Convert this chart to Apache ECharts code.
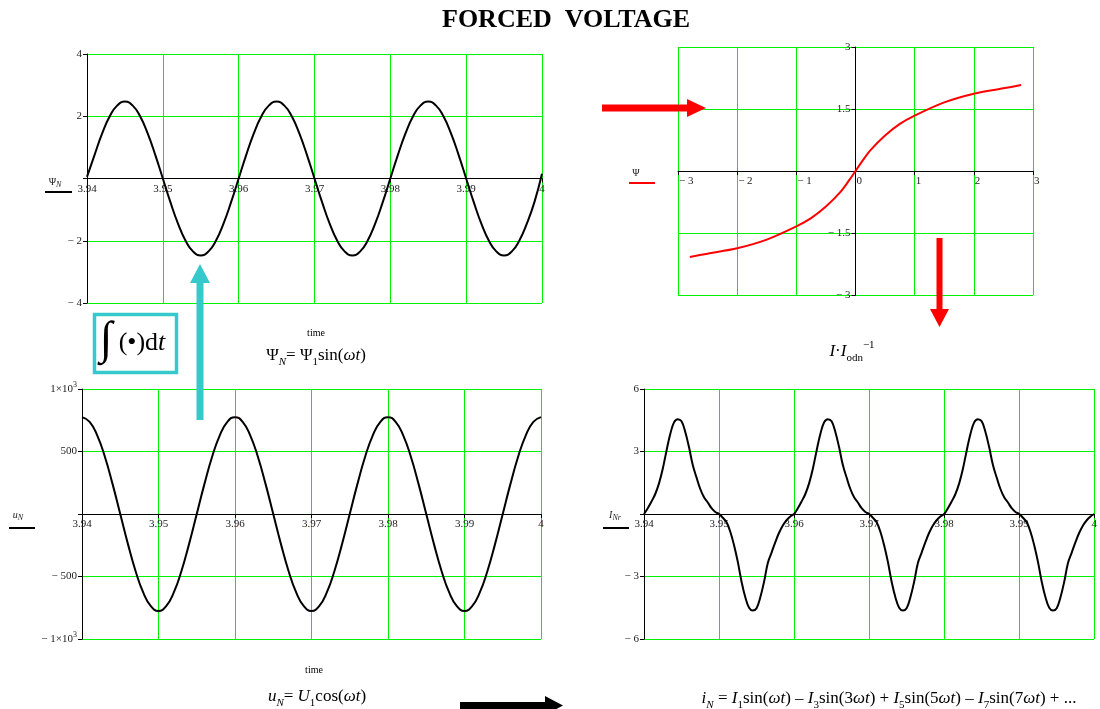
<!DOCTYPE html>
<html><head><meta charset="utf-8">
<script src="https://cdn.jsdelivr.net/npm/echarts@6/dist/echarts.min.js"></script>
<style>html,body{margin:0;padding:0;background:#fff}#c{width:1100px;height:709px}</style>
</head><body><div id="c"></div>
<script>
// ---------------- data ----------------
const T_START = 3.94;
const T_STEP = 0.001;      // sampling step of psiN and uN
const T_STEP_I = 0.0005;   // sampling step of iNr
const timeMin = 3.94, timeMax = 4.0, timeInterval = 0.01;

// flux linkage Psi_N (top-left)
const psiN = [
  0.05, 0.76, 1.45, 2.0, 2.35, 2.47, 2.35, 2.0, 1.45, 0.76,
  0, -0.76, -1.45, -2.0, -2.35, -2.47, -2.35, -2.0, -1.45, -0.76,
  0, 0.76, 1.45, 2.0, 2.35, 2.47, 2.35, 2.0, 1.45, 0.76,
  0, -0.76, -1.45, -2.0, -2.35, -2.47, -2.35, -2.0, -1.45, -0.76,
  0, 0.76, 1.45, 2.0, 2.35, 2.47, 2.35, 2.0, 1.45, 0.76,
  0, -0.76, -1.45, -2.0, -2.35, -2.47, -2.35, -2.0, -1.45, -0.76,
  0.15
];
// voltage u_N (bottom-left)
const uN = [
  775, 737, 627, 456, 239, 0, -239, -456, -627, -737,
  -775, -737, -627, -456, -239, 0, 239, 456, 627, 737,
  775, 737, 627, 456, 239, 0, -239, -456, -627, -737,
  -775, -737, -627, -456, -239, 0, 239, 456, 627, 737,
  775, 737, 627, 456, 239, 0, -239, -456, -627, -737,
  -775, -737, -627, -456, -239, 0, 239, 456, 627, 737,
  775
];
// current I_Nr (bottom-right)
const iNr = [
  0, 0.28, 0.6, 0.96, 1.47, 2.17, 3.04, 3.84, 4.4, 4.55,
  4.45, 3.94, 3.2, 2.35, 1.75, 1.2, 0.8, 0.55, 0.28, 0.1,
  0, -0.18, -0.4, -0.85, -1.5, -2.3, -3.25, -4.0, -4.5, -4.63,
  -4.52, -4.0, -3.25, -2.35, -1.85, -1.35, -0.9, -0.55, -0.3, -0.12,
  0, 0.28, 0.6, 0.96, 1.47, 2.17, 3.04, 3.84, 4.4, 4.55,
  4.45, 3.94, 3.2, 2.35, 1.75, 1.2, 0.8, 0.55, 0.28, 0.1,
  0, -0.18, -0.4, -0.85, -1.5, -2.3, -3.25, -4.0, -4.5, -4.63,
  -4.52, -4.0, -3.25, -2.35, -1.85, -1.35, -0.9, -0.55, -0.3, -0.12,
  0, 0.28, 0.6, 0.96, 1.47, 2.17, 3.04, 3.84, 4.4, 4.55,
  4.45, 3.94, 3.2, 2.35, 1.75, 1.2, 0.8, 0.55, 0.28, 0.1,
  0, -0.18, -0.4, -0.85, -1.5, -2.3, -3.25, -4.0, -4.5, -4.63,
  -4.52, -4.0, -3.25, -2.35, -1.85, -1.35, -0.9, -0.55, -0.3, -0.12,
  0
];
// magnetisation curve Psi(I/Iodn) (top-right)
const magI   = [-2.8, -2.5, -2, -1.5, -1, -0.75, -0.5, -0.25, -0.1, 0, 0.1, 0.25, 0.5, 0.75, 1, 1.5, 2, 2.5, 2.8];
const magPsi = [-2.08, -2.0, -1.87, -1.66, -1.34, -1.14, -0.86, -0.5, -0.21, 0, 0.21, 0.5, 0.86, 1.14, 1.34, 1.66, 1.87, 2.0, 2.08];

// ---------------- chart ----------------
const SERIF = 'Liberation Serif';
const GREEN = '#00f000';
const chart = echarts.init(document.getElementById('c'));

const minusText = v => (v < 0 ? '− ' + (-v) : String(v));
const timeFmt = v => String(Math.round(v * 100) / 100);

function axisCommon() {
  return {
    axisLine: { show: true, onZero: false, lineStyle: { color: '#000', width: 1 } },
    axisTick: { show: true, length: 4, lineStyle: { color: '#000' } },
    splitLine: { show: true, lineStyle: { color: GREEN, width: 1 } },
    axisLabel: { fontFamily: SERIF, fontSize: 11, color: '#222', margin: 5 }
  };
}
// x axis drawn through y = 0 of its grid (offset = half the grid height)
function timeX(grid, halfH) {
  const a = axisCommon();
  a.axisLabel.formatter = timeFmt;
  return Object.assign(a, { type: 'value', gridIndex: grid, position: 'bottom', offset: -halfH,
    min: timeMin, max: timeMax, interval: timeInterval });
}
function valY(grid, min, max, interval, fmt) {
  const a = axisCommon();
  a.axisLabel.formatter = fmt;
  return Object.assign(a, { type: 'value', gridIndex: grid, position: 'left', min, max, interval });
}

const magX = axisCommon();
Object.assign(magX, { type: 'value', gridIndex: 1, position: 'bottom', offset: -124, min: -3, max: 3, interval: 1 });
magX.axisLabel.formatter = minusText;
magX.axisLabel.align = 'left';
magX.axisLabel.padding = [0, 0, 0, 1];

const magY = valY(1, -3, 3, 1.5, v => (v === 0 ? '' : minusText(v)));
magY.offset = -177.5;

const uY = valY(2, -1000, 1000, 500, v => {
  if (v === 0) return '';
  if (v === 1000) return '1×10{p|3}';
  if (v === -1000) return '− 1×10{p|3}';
  return minusText(v);
});
uY.axisLabel.lineHeight = 16;
uY.axisLabel.rich = { p: { fontFamily: SERIF, fontSize: 8, lineHeight: 8, verticalAlign: 'top', color: '#222' } };

const lineSeries = (xi, data, color, smooth) => ({
  type: 'line', xAxisIndex: xi, yAxisIndex: xi, data, showSymbol: false, smooth,
  silent: true, lineStyle: { color, width: 2 }, z: 5
});

// rich text styles for formulas (zrender naming)
const F = 17;
const richF = {
  m:  { fontSize: F, fontFamily: SERIF, lineHeight: 24, fill: '#000' },
  mi: { fontSize: F, fontFamily: SERIF, lineHeight: 24, fill: '#000', fontStyle: 'italic' },
  s:  { fontSize: 11, fontFamily: SERIF, lineHeight: 11, fill: '#000', verticalAlign: 'bottom' },
  si: { fontSize: 11, fontFamily: SERIF, lineHeight: 11, fill: '#000', verticalAlign: 'bottom', fontStyle: 'italic' },
  p:  { fontSize: 11, fontFamily: SERIF, lineHeight: 13, fill: '#000', verticalAlign: 'top' }
};
const richL = {
  m:  { fontSize: 10, fontFamily: SERIF, lineHeight: 14, fill: '#222' },
  mi: { fontSize: 10, fontFamily: SERIF, lineHeight: 14, fill: '#222', fontStyle: 'italic' },
  si: { fontSize: 8, fontFamily: SERIF, lineHeight: 8, fill: '#222', verticalAlign: 'bottom', fontStyle: 'italic' }
};
function txt(text, x, y, rich) {
  return {
    type: 'text', z: 100,
    style: { text, x, y, rich, align: 'center', verticalAlign: 'middle', textAlign: 'center', textVerticalAlign: 'middle', fill: '#000' }
  };
}
function plain(text, x, y, font) {
  return { type: 'text', z: 101, style: { text, x, y, font, fill: '#000', align: 'center', verticalAlign: 'middle', textAlign: 'center', textVerticalAlign: 'middle' } };
}
function poly(points, color) {
  return { type: 'polygon', z: 100, shape: { points }, style: { fill: color, stroke: null } };
}
function seg(x1, y1, x2, y2, color) {
  return { type: 'line', z: 100, shape: { x1, y1, x2, y2 }, style: { stroke: color, lineWidth: 2 } };
}

const CYAN = '#36c9cc';
const RED = '#ff0000';

chart.setOption({
  animation: false,
  backgroundColor: '#fff',
  grid: [
    { left: 87, top: 54, width: 455, height: 249 },
    { left: 678, top: 47, width: 355, height: 248 },
    { left: 82, top: 389, width: 459, height: 250 },
    { left: 644, top: 389, width: 459, height: 250 }
  ],
  xAxis: [timeX(0, 124.5), magX, timeX(2, 125), timeX(3, 125)],
  yAxis: [
    valY(0, -4, 4, 2, v => (v === 0 ? '' : minusText(v))),
    magY,
    uY,
    valY(3, -6, 6, 3, v => (v === 0 ? '' : minusText(v)))
  ],
  series: [
    lineSeries(0, psiN.map((v, i) => [T_START + i * T_STEP, v]), '#000', true),
    lineSeries(1, magI.map((x, i) => [x, magPsi[i]]), RED, 0.3),
    lineSeries(2, uN.map((v, i) => [T_START + i * T_STEP, v]), '#000', true),
    lineSeries(3, iNr.map((v, i) => [T_START + i * T_STEP_I, v]), '#000', 0.4)
  ],
  graphic: [
    plain('FORCED  VOLTAGE', 566, 20, 'bold 26px "Liberation Serif"'),
    // axis names
    plain('time', 316, 333, '10px "Liberation Serif"'),
    plain('time', 314, 670, '10px "Liberation Serif"'),
    // legends
    txt('{m|Ψ}{si|N}', 55, 182, richL), seg(45, 192, 72, 192, '#000'),
    txt('{m|Ψ}', 636, 173, richL), seg(629, 183, 655, 183, RED),
    txt('{mi|u}{si|N}', 18, 515, richL), seg(9, 528, 35, 528, '#000'),
    txt('{mi|I}{si|Nr}', 615, 515, richL), seg(603, 528, 629, 528, '#000'),
    // formulas
    txt('{m|Ψ}{si|N}{m|= Ψ}{s|1}{m|sin(}{mi|ωt}{m|)}', 316, 356, richF),
    txt('{mi|I}{m|·}{mi|I}{s|odn}{p|−1}', 852, 352, richF),
    txt('{mi|u}{si|N}{m|= }{mi|U}{s|1}{m|cos(}{mi|ωt}{m|)}', 317, 697, richF),
    txt('{mi|i}{si|N}{m| = }{mi|I}{s|1}{m|sin(}{mi|ωt}{m|) – }{mi|I}{s|3}{m|sin(3}{mi|ωt}{m|) + }{mi|I}{s|5}{m|sin(5}{mi|ωt}{m|) – }{mi|I}{s|7}{m|sin(7}{mi|ωt}{m|) + ...}', 889, 699, richF),
    // integral box
    { type: 'rect', z: 100, shape: { x: 94.5, y: 314.5, width: 82, height: 58 }, style: { fill: '#fff', stroke: CYAN, lineWidth: 3.5 } },
    plain('∫', 106, 341, '46px "Liberation Serif"'),
    { type: 'text', z: 101, style: { text: '{a|(•)d}{b|t}', x: 142, y: 343, rich: { a: { fontSize: 26, fontFamily: SERIF, fill: '#000' }, b: { fontSize: 26, fontFamily: SERIF, fill: '#000', fontStyle: 'italic' } }, align: 'center', verticalAlign: 'middle', textAlign: 'center', textVerticalAlign: 'middle' } },
    // arrows
    poly([[200, 264], [210, 283], [203.5, 283], [203.5, 420], [196.5, 420], [196.5, 283], [190, 283]], CYAN),
    poly([[602, 104.5], [687, 104.5], [687, 99], [706, 108], [687, 117], [687, 111.5], [602, 111.5]], RED),
    poly([[936.5, 238], [942.5, 238], [942.5, 309], [949, 309], [939.5, 327], [930, 309], [936.5, 309]], RED),
    poly([[460, 702], [545, 702], [545, 696], [563, 705.5], [545, 715], [545, 709], [460, 709]], '#000')
  ]
});
</script>
</body></html>
